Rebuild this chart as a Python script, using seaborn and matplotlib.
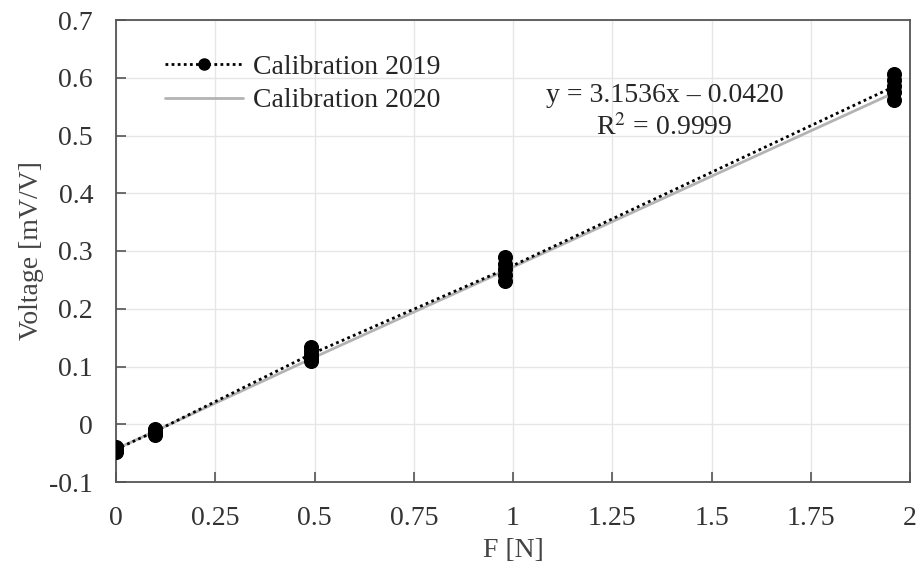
import numpy as np
import pandas as pd
import matplotlib
matplotlib.use("Agg")
import matplotlib.pyplot as plt
import seaborn as sns
from matplotlib.lines import Line2D

# ---- data ----
force = [0.0, 0.098, 0.49, 0.98, 1.96]
trials_2019 = {
    0.0:   [-0.048, -0.045, -0.043, -0.041, -0.040],
    0.098: [-0.018, -0.015, -0.012, -0.010, -0.008],
    0.49:  [0.110, 0.115, 0.120, 0.126, 0.134],
    0.98:  [0.248, 0.258, 0.268, 0.278, 0.290],
    1.96:  [0.561, 0.575, 0.585, 0.596, 0.607],
}
v2020 = [-0.043, -0.012, 0.113, 0.266, 0.574]
x_ticks = [0, 0.25, 0.5, 0.75, 1, 1.25, 1.5, 1.75, 2]
y_ticks = [-0.1, 0, 0.1, 0.2, 0.3, 0.4, 0.5, 0.6, 0.7]
y_tick_labels = ["-0.1", "0", "0.1", "0.2", "0.3", "0.4", "0.5", "0.6", "0.7"]
x_tick_labels = ["0", "0.25", "0.5", "0.75", "1", "1.25", "1.5", "1.75", "2"]
eq_text = "y = 3.1536x \u2013 0.0420\nR$^2$ = 0.9999"

rows = [(f, v) for f in force for v in trials_2019[f]]
df19 = pd.DataFrame(rows, columns=["F", "V"])
df20 = pd.DataFrame({"F": force, "V": v2020})

sns.set_theme(style="whitegrid")
plt.rcParams["font.family"] = ["Liberation Serif", "DejaVu Serif"]
plt.rcParams["mathtext.fontset"] = "stix"

FS = 20
fig = plt.figure(figsize=(9.21, 5.69), dpi=100)
ax = fig.add_axes([116 / 921, 1 - 482 / 569, (910 - 116) / 921, (482 - 20) / 569])

sns.lineplot(data=df20, x="F", y="V", ax=ax, color="#b3b3b3", linewidth=2.0,
             zorder=2)
sns.lineplot(data=df19, x="F", y="V", ax=ax, estimator="mean", errorbar=None,
             color="black", linestyle=(0, (1, 1.2)), linewidth=2.0, zorder=3)
sns.scatterplot(data=df19, x="F", y="V", ax=ax, color="black", s=100,
                edgecolor="black", zorder=4)

h19 = Line2D([], [], color="black", linestyle=(0, (1, 1.2)), linewidth=2.0,
             marker="o", markersize=8, markevery=[1])
h19.set_xdata([0, 0.5, 1]); h19.set_ydata([0, 0, 0])
h20 = Line2D([], [], color="#b3b3b3", linewidth=2.0)
leg = ax.legend([h19, h20], ["Calibration 2019", "Calibration 2020"],
                loc="upper left", bbox_to_anchor=(0.062, 0.926), frameon=False,
                fontsize=FS, handlelength=2.8, handletextpad=0.36,
                labelspacing=0.3, borderaxespad=0, borderpad=0)

ax.text(1.382, 0.541, eq_text, ha="center", va="center", fontsize=FS,
        linespacing=1.3, zorder=5)

ax.set_xlim(0, 2)
ax.set_ylim(-0.1, 0.7)
ax.set_xticks(x_ticks)
ax.set_xticklabels(x_tick_labels)
ax.set_yticks(y_ticks)
ax.set_yticklabels(y_tick_labels)
ax.tick_params(axis="both", labelsize=FS, colors="#333333", direction="in",
               length=7, width=1.2, bottom=True, left=True)
ax.tick_params(axis="both", color="#555555")
ax.tick_params(axis="y", pad=16.5)
ax.tick_params(axis="x", pad=17)
ax.set_xlabel("F [N]", fontsize=FS, color="#444444", labelpad=5)
ax.set_ylabel("Voltage [mV/V]", fontsize=FS, color="#444444", labelpad=4)
ax.grid(True, color="#e6e6e6", linewidth=1.0)
for s in ax.spines.values():
    s.set_color("#555555")
    s.set_linewidth(1.3)

fig.savefig("out.png", dpi=100, facecolor="white")
